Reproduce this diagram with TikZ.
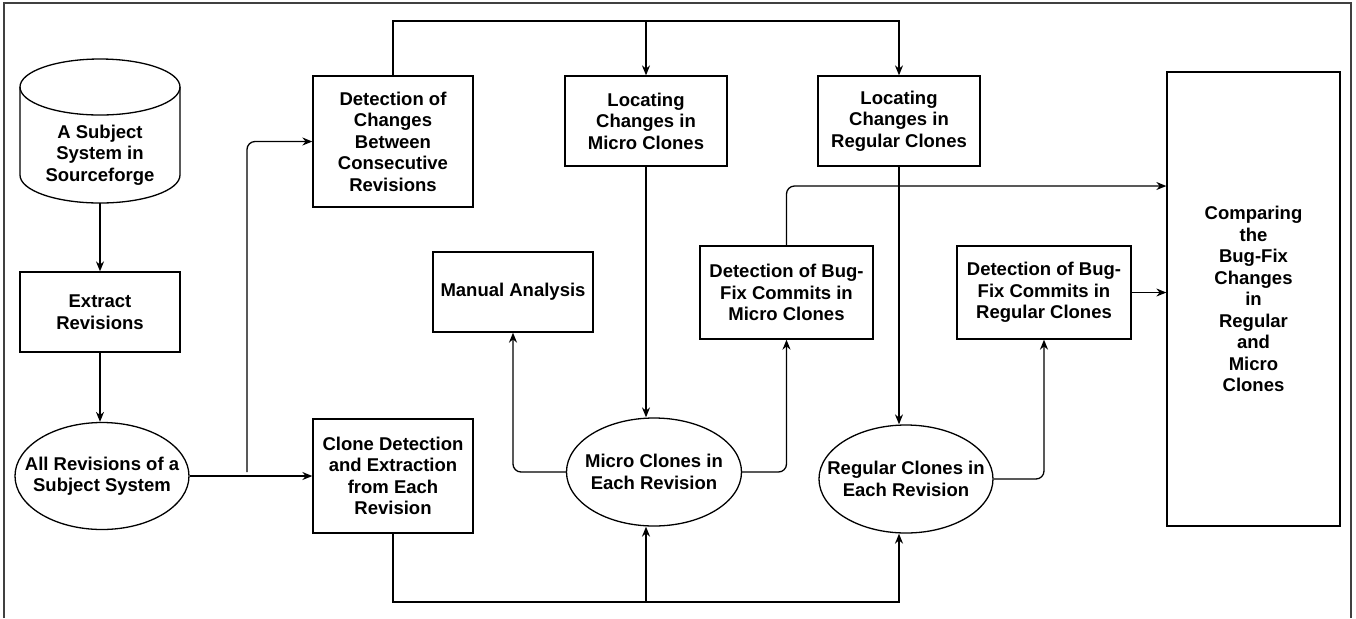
\documentclass[tikz,border=0pt]{standalone}
\usepackage{fontspec}
\setmainfont{Liberation Sans}
\usetikzlibrary{arrows.meta,shapes.geometric}
\tikzset{
	txt/.style={align=center, inner sep=0pt, font=\bfseries\fontsize{9.25}{10.75}\selectfont},
	box/.style={txt, draw, line width=0.65pt},
	oval/.style={txt, ellipse, draw, line width=0.65pt, inner xsep=-10pt},
	link/.style={->, line width=0.65pt},
}
\begin{document}
\begin{tikzpicture}[x=0.5pt, y=-0.5pt, >={Stealth[length=5pt,width=4pt]}]
	\useasboundingbox (0,0) rectangle (1356,618);
	\draw[line width=1pt, black!75](4,618)--(4,3)--(1351,3)--(1351,618);
	\draw[line width=0.65pt](20,87)--(20,175) arc[start angle=180, end angle=360, x radius=40pt, y radius=14pt]--(180,87);
	\draw[line width=0.65pt](100,87) ellipse[x radius=40pt, y radius=14pt];
\node (db) at (100,155)[txt, minimum width=80pt, minimum height=48pt]{A Subject\\System in\\Sourceforge};
\node (ext) at (100,312)[box, minimum width=80pt, minimum height=40pt]{Extract\\Revisions};
\node (allrev) at (102,476)[oval, minimum width=87pt, minimum height=53.5pt]{All Revisions of a\\Subject System};
\node (chg) at (393,141.5)[box, minimum width=80pt, minimum height=65.5pt]{Detection of\\Changes\\Between\\Consecutive\\Revisions};
\node (clone) at (393,476)[box, minimum width=80pt, minimum height=57pt]{Clone Detection\\and Extraction\\from Each\\Revision};
\node (locmicro) at (646,121)[box, minimum width=81pt, minimum height=45pt]{Locating\\Changes in\\Micro Clones};
\node (locreg) at (899,121)[box, minimum width=81pt, minimum height=45pt]{Locating\\Changes in\\Regular Clones};
\node (manual) at (513,292)[box, minimum width=80pt, minimum height=40pt]{Manual Analysis};
\node (bfmicro) at (786.5,292.5)[box, minimum width=86.5pt, minimum height=46.5pt]{Detection of Bug-\\Fix Commits in\\Micro Clones};
\node (bfreg) at (1044,292.5)[box, minimum width=87pt, minimum height=46.5pt]{Detection of Bug-\\Fix Commits in\\Regular Clones};
\node (microrev) at (654,472)[oval, minimum width=87.5pt, minimum height=54pt]{Micro Clones in\\Each Revision};
\node (regrev) at (906,479)[oval, minimum width=87pt, minimum height=54pt]{Regular Clones in\\Each Revision};
\node (cmp) at (1253.5,299)[box, minimum width=86.5pt, minimum height=227pt]{Comparing\\the\\Bug-Fix\\Changes\\in\\Regular\\and\\Micro\\Clones};
	\coordinate (fork) at (247,472);
	\coordinate (top) at (393,21);
	\coordinate (bot) at (393,602);
	\draw[link](db)--(ext);
	\draw[link](ext)--(ext.south |- allrev.north);
	\draw[link](allrev)--(clone);
	\draw[link, rounded corners=4pt](fork)|-(chg);
	\draw[link](chg)--(top)-|(locreg);
	\draw[link](top -| locmicro)--(locmicro);
	\draw[link](locmicro)--(locmicro |- microrev.north);
	\draw[link](locreg)--(locreg |- regrev.north);
	\draw[link, rounded corners=4pt](microrev)-|(manual);
	\draw[link, rounded corners=4pt](microrev)-|(bfmicro);
	\draw[link, rounded corners=4pt](regrev)-|(bfreg);
	\draw[link, rounded corners=4pt](bfmicro)|-([yshift=56.5pt]cmp.west);
	\draw[link](bfreg)--(bfreg -| cmp.west);
	\draw[link](clone)--(bot)-|(locreg |- regrev.south);
	\draw[link](locmicro |- bot)--(locmicro |- microrev.south);

\end{tikzpicture}
\end{document}
